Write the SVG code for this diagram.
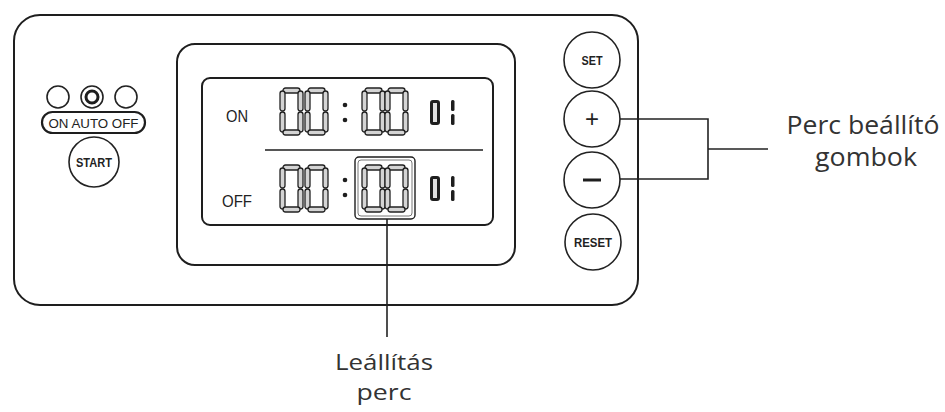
<svg xmlns="http://www.w3.org/2000/svg" width="945" height="412" viewBox="0 0 945 412">
<style>
.ln{fill:none;stroke:#1e1e1e;stroke-width:2}
.thin{fill:none;stroke:#1e1e1e;stroke-width:1.4}
.seg{fill:#d4d4d4;stroke:#222;stroke-width:1.3}
.btn{fill:#fff;stroke:#222;stroke-width:1.6}
.bt{font-family:"Liberation Sans",Arial,sans-serif;font-weight:bold;fill:#222;text-anchor:middle}
.lcdt{font-family:"Liberation Sans",Arial,sans-serif;font-size:16px;fill:#222;text-anchor:middle}
.lab{font-family:"Open Sans","Noto Sans",sans-serif;font-size:25px;fill:#333;text-anchor:middle}
.lab2{font-family:"Open Sans","Noto Sans",sans-serif;font-size:22px;fill:#333;text-anchor:middle}
.con{fill:none;stroke:#222;stroke-width:1.6}
</style>
<defs>
<g id="dg">
<rect class="seg" x="3" y="0" width="17" height="5" rx="2.5"/>
<rect class="seg" x="0" y="3" width="5" height="20" rx="2.5"/>
<rect class="seg" x="18" y="3" width="5" height="20" rx="2.5"/>
<rect class="seg" x="0" y="24" width="5" height="20" rx="2.5"/>
<rect class="seg" x="18" y="24" width="5" height="20" rx="2.5"/>
<rect class="seg" x="3" y="42" width="17" height="5" rx="2.5"/>
</g>
<g id="d01">
<rect x="1.5" y="1.5" width="7" height="22" rx="1.5" fill="#e0e0e0" stroke="#1e1e1e" stroke-width="3"/>
<rect x="21" y="0" width="3.5" height="11" rx="1.5" fill="#1e1e1e"/>
<rect x="21" y="14" width="3.5" height="11" rx="1.5" fill="#1e1e1e"/>
</g>
</defs>
<rect width="945" height="412" fill="#fff"/>

<g id="panel">
<rect class="ln" x="14" y="15" width="624" height="290" rx="26"/>
</g>

<g id="lcd">
<rect class="ln" x="177" y="44" width="338" height="221" rx="18"/>
<rect class="ln" x="202" y="78" width="291" height="147" rx="8"/>
<line class="thin" x1="265" y1="150" x2="483" y2="150"/>
<text class="lcdt" x="237" y="122" textLength="22" lengthAdjust="spacingAndGlyphs">ON</text>
<text class="lcdt" x="237" y="207" textLength="30" lengthAdjust="spacingAndGlyphs">OFF</text>
<use href="#dg" x="280" y="88"/>
<use href="#dg" x="305" y="88"/>
<circle cx="345" cy="105" r="2.3" fill="#1e1e1e"/>
<circle cx="345" cy="120" r="2.3" fill="#1e1e1e"/>
<use href="#dg" x="362" y="88"/>
<use href="#dg" x="385" y="88"/>
<use href="#d01" x="430" y="100"/>
<use href="#dg" x="280" y="165"/>
<use href="#dg" x="305" y="165"/>
<circle cx="345" cy="180" r="2.3" fill="#1e1e1e"/>
<circle cx="345" cy="195" r="2.3" fill="#1e1e1e"/>
<use href="#dg" x="362" y="165"/>
<use href="#dg" x="385" y="165"/>
<use href="#d01" x="430" y="176"/>
<rect class="thin" x="355" y="157" width="60" height="62" rx="4"/>
<rect fill="none" stroke="#555" stroke-width="0.8" x="358" y="160" width="54" height="56" rx="3"/>
</g>

<g id="mode-selector">
<circle class="btn" cx="58" cy="97" r="11"/>
<circle class="btn" cx="92" cy="97" r="11"/>
<circle cx="92" cy="97" r="6" fill="none" stroke="#1e1e1e" stroke-width="3"/>
<circle class="btn" cx="126" cy="97" r="11"/>
<rect x="42" y="112" width="103" height="21" rx="10.5" fill="#fff" stroke="#1e1e1e" stroke-width="2.2"/>
<text class="bt" x="93.5" y="127.5" font-size="13" style="font-weight:normal" textLength="90" lengthAdjust="spacingAndGlyphs">ON AUTO OFF</text>
</g>

<g id="start-btn">
<circle class="btn" cx="94" cy="162" r="25"/>
<text class="bt" x="94" y="167" font-size="13" textLength="36" lengthAdjust="spacingAndGlyphs">START</text>
</g>

<g id="set-btn">
<circle class="btn" cx="592" cy="60" r="28"/>
<text class="bt" x="592" y="64.5" font-size="12" textLength="21" lengthAdjust="spacingAndGlyphs">SET</text>
</g>
<g id="plus-btn">
<circle class="btn" cx="592" cy="119" r="28"/>
<text class="bt" x="592" y="127" font-size="24" style="font-weight:normal">+</text>
</g>
<g id="minus-btn">
<circle class="btn" cx="592" cy="180" r="28"/>
<line x1="583" y1="180" x2="601" y2="180" stroke="#1e1e1e" stroke-width="3"/>
</g>
<g id="reset-btn">
<circle class="btn" cx="593" cy="242" r="28"/>
<text class="bt" x="593" y="246.5" font-size="12" textLength="38" lengthAdjust="spacingAndGlyphs">RESET</text>
</g>

<g id="connectors">
<polyline class="con" points="620,119 708,119 708,179 620,179"/>
<line class="con" x1="708" y1="149" x2="768" y2="149"/>
<line class="con" x1="387" y1="219" x2="387" y2="337"/>
</g>

<g id="label-perc-beallito">
<text class="lab" x="863" y="134" textLength="153" lengthAdjust="spacingAndGlyphs">Perc beállító</text>
<text class="lab" x="866" y="166" textLength="102" lengthAdjust="spacingAndGlyphs">gombok</text>
</g>
<g id="label-leallitas">
<text class="lab2" x="384" y="370" textLength="98" lengthAdjust="spacingAndGlyphs">Leállítás</text>
<text class="lab2" x="384" y="400" textLength="55" lengthAdjust="spacingAndGlyphs">perc</text>
</g>
</svg>
